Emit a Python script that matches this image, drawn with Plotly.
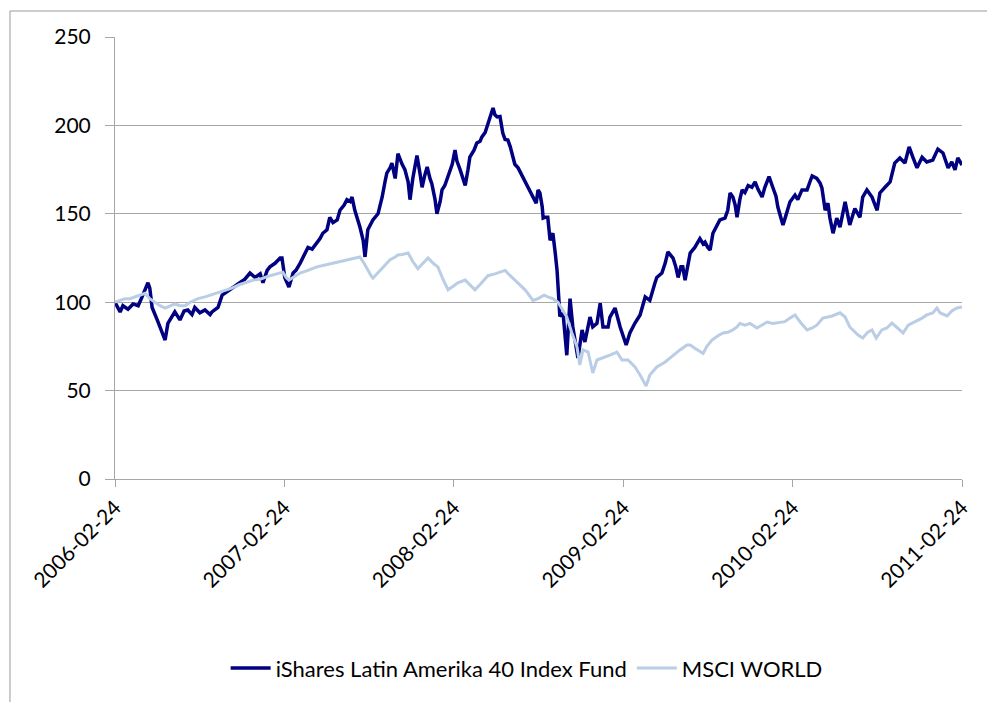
import plotly.graph_objects as go

# ---------------- data ----------------
latam_dates = [
    "2006-02-24","2006-03-03","2006-03-07","2006-03-13","2006-03-24","2006-04-04","2006-04-15","2006-04-25",
    "2006-05-06","2006-05-10","2006-05-15","2006-05-26","2006-06-03","2006-06-12","2006-06-18","2006-06-27",
    "2006-07-03","2006-07-14","2006-07-23","2006-07-31","2006-08-09","2006-08-15","2006-08-26","2006-09-06",
    "2006-09-17","2006-09-21","2006-10-04","2006-10-13","2006-10-23","2006-11-03","2006-11-12","2006-11-20",
    "2006-12-01","2006-12-12","2006-12-23","2007-01-03","2007-01-09","2007-01-18","2007-01-24","2007-02-04",
    "2007-02-15","2007-02-19","2007-02-25","2007-03-06","2007-03-15","2007-03-21","2007-03-30","2007-04-07",
    "2007-04-16","2007-04-25","2007-05-05","2007-05-12","2007-05-18","2007-05-27","2007-06-02","2007-06-09",
    "2007-06-18","2007-06-24","2007-07-03","2007-07-09","2007-07-16","2007-07-20","2007-07-26","2007-07-31",
    "2007-08-06","2007-08-13","2007-08-17","2007-08-23","2007-09-03","2007-09-14","2007-09-23","2007-09-29",
    "2007-10-03","2007-10-10","2007-10-14","2007-10-21","2007-10-27","2007-11-05","2007-11-11","2007-11-18",
    "2007-11-22","2007-11-28","2007-12-07","2007-12-14","2007-12-18","2007-12-24","2007-12-29","2008-01-04",
    "2008-01-08","2008-01-15","2008-01-19","2008-01-26","2008-01-30","2008-02-05","2008-02-12","2008-02-21",
    "2008-02-27","2008-03-02","2008-03-09","2008-03-15","2008-03-20","2008-03-26","2008-03-30","2008-04-08",
    "2008-04-14","2008-04-21","2008-04-25","2008-05-02","2008-05-06","2008-05-12","2008-05-19","2008-05-23",
    "2008-05-28","2008-06-03","2008-06-09","2008-06-14","2008-06-20","2008-06-25","2008-07-01","2008-07-05",
    "2008-07-12","2008-07-16","2008-07-23","2008-07-29","2008-08-02","2008-08-09","2008-08-13","2008-08-20",
    "2008-08-24","2008-08-28","2008-09-02","2008-09-04","2008-09-08","2008-09-14","2008-09-19","2008-09-25",
    "2008-09-30","2008-10-04","2008-10-08","2008-10-10","2008-10-17","2008-10-25","2008-11-01","2008-11-07",
    "2008-11-18","2008-11-27","2008-12-03","2008-12-14","2008-12-20","2008-12-29","2009-01-05","2009-01-11",
    "2009-01-22","2009-01-26","2009-02-06","2009-02-17","2009-03-02","2009-03-10","2009-03-21","2009-04-01",
    "2009-04-12","2009-04-22","2009-05-03","2009-05-07","2009-05-18","2009-05-25","2009-05-31","2009-06-07",
    "2009-06-11","2009-06-17","2009-06-22","2009-06-28","2009-07-02","2009-07-07","2009-07-11","2009-07-18",
    "2009-07-28","2009-08-08","2009-08-15","2009-08-19","2009-08-25","2009-08-30","2009-09-05","2009-09-14",
    "2009-09-20","2009-10-01","2009-10-07","2009-10-12","2009-10-18","2009-10-23","2009-10-27","2009-11-02",
    "2009-11-07","2009-11-13","2009-11-20","2009-11-28","2009-12-05","2009-12-11","2009-12-20","2009-12-26",
    "2010-01-04","2010-01-12","2010-01-19","2010-01-23","2010-01-30","2010-02-03","2010-02-07","2010-02-12",
    "2010-02-18","2010-03-01","2010-03-07","2010-03-16","2010-03-27","2010-04-02","2010-04-07","2010-04-17",
    "2010-04-24","2010-04-28","2010-05-05","2010-05-11","2010-05-15","2010-05-22","2010-05-30","2010-06-06",
    "2010-06-17","2010-06-27","2010-07-08","2010-07-19","2010-07-25","2010-08-03","2010-08-14","2010-08-25",
    "2010-08-31","2010-09-11","2010-09-22","2010-10-02","2010-10-13","2010-10-24","2010-11-02","2010-11-10",
    "2010-11-19","2010-11-30","2010-12-10","2010-12-23","2011-01-03","2011-01-14","2011-01-25","2011-02-02",
    "2011-02-09","2011-02-15","2011-02-24",
]
latam_values = [
    100, 97, 94.5, 98, 96, 99, 98, 104,
    111, 108, 97, 90, 84, 78.6, 88, 92,
    94.5, 90, 95, 95.6, 93, 97, 94, 95.6,
    93, 94.5, 97, 104, 106, 108, 110, 111,
    113, 116.5, 114, 116, 111, 118, 120, 122,
    125, 125, 114, 108.6, 116.5, 118, 122, 126,
    131, 130, 133.5, 136, 139, 141, 148, 145,
    146.5, 152, 155, 158, 157, 159.5, 152, 148,
    142.5, 135, 125.6, 141, 146.5, 150, 159.5, 168,
    173, 176, 178.7, 170, 184, 178, 175, 168,
    158, 170, 183, 172, 165, 172, 176.5, 170,
    167, 158, 150, 157, 163.5, 166, 171, 178,
    186, 180, 175, 170, 166, 175, 182, 186,
    190, 191, 193.5, 196, 199, 204, 209.8, 206,
    204.8, 205, 195.7, 192, 191.7, 188, 182, 178,
    176, 174, 170, 168, 165, 162, 159.5, 156,
    163.5, 161.8, 154, 147.6, 148, 148, 135, 139,
    128, 118, 101, 92, 93.7, 70, 102, 86,
    68.4, 84.3, 77.5, 91.6, 86, 88, 99.4, 86,
    86, 91.6, 96.7, 86, 75.8, 82.6, 88.2, 92.8,
    103, 101, 110.9, 114, 116.5, 122, 128.4, 126,
    125, 120, 114, 120, 120, 112.5, 118, 127.8,
    131, 136, 133, 134, 131, 129.5, 139, 143,
    146.5, 147.6, 152, 161.8, 159.5, 155, 148, 158,
    163.5, 162, 166, 165, 168, 164, 159.5, 165,
    171, 165, 160, 153.8, 148, 143.7, 147, 152,
    156.7, 160.6, 158, 163.5, 163.5, 168, 171.4, 170,
    167.4, 164.6, 152, 156, 148, 139, 147.6, 142.5,
    156.7, 143.7, 153, 148, 159.5, 163.5, 159.5, 152,
    161.8, 165, 168, 178.7, 181.6, 178.7, 187.8, 182,
    176, 182, 179.3, 180.4, 186.6, 184.4, 176, 179.3,
    174.8, 181.6, 177.6,
]

msci_dates = [
    "2006-02-24","2006-03-07","2006-03-18","2006-03-28","2006-04-08","2006-04-19","2006-04-30","2006-05-10",
    "2006-05-21","2006-06-01","2006-06-12","2006-06-23","2006-07-03","2006-07-14","2006-07-25","2006-08-05",
    "2006-08-22","2006-09-06","2006-09-28","2006-10-19","2006-11-03","2006-11-20","2006-12-01","2006-12-19",
    "2007-01-03","2007-01-24","2007-02-21","2007-02-28","2007-03-06","2007-03-15","2007-03-30","2007-04-16",
    "2007-05-05","2007-05-23","2007-06-09","2007-06-24","2007-07-16","2007-07-26","2007-08-06","2007-08-15",
    "2007-08-23","2007-08-30","2007-09-03","2007-09-12","2007-09-18","2007-09-29","2007-10-10","2007-10-21",
    "2007-10-27","2007-11-05","2007-11-18","2007-11-28","2007-12-09","2007-12-20","2007-12-31","2008-01-11",
    "2008-01-21","2008-02-01","2008-02-12","2008-02-23","2008-03-04","2008-03-20","2008-03-30","2008-04-10",
    "2008-04-21","2008-05-08","2008-05-23","2008-06-14","2008-06-25","2008-07-05","2008-07-16","2008-07-27",
    "2008-08-02","2008-08-13","2008-08-24","2008-09-06","2008-09-14","2008-09-25","2008-10-06","2008-10-15",
    "2008-10-25","2008-11-05","2008-11-16","2008-11-22","2008-11-29","2008-12-10","2008-12-20","2008-12-29",
    "2009-01-11","2009-01-26","2009-02-10","2009-02-21","2009-03-06","2009-03-21","2009-04-01","2009-04-14",
    "2009-04-22","2009-05-07","2009-05-25","2009-06-11","2009-06-26","2009-07-11","2009-07-18","2009-07-28",
    "2009-08-08","2009-08-15","2009-08-23","2009-09-03","2009-09-16","2009-09-27","2009-10-07","2009-10-18",
    "2009-10-27","2009-11-02","2009-11-13","2009-11-24","2009-12-09","2009-12-20","2009-12-31","2010-01-12",
    "2010-01-28","2010-02-07","2010-02-18","2010-03-01","2010-03-12","2010-03-27","2010-04-07","2010-04-17",
    "2010-04-30","2010-05-20","2010-06-06","2010-06-17","2010-06-27","2010-07-04","2010-07-15","2010-07-25",
    "2010-08-05","2010-08-14","2010-08-23","2010-09-04","2010-09-15","2010-09-26","2010-10-07","2010-10-20",
    "2010-10-31","2010-11-15","2010-11-30","2010-12-10","2010-12-23","2011-01-01","2011-01-08","2011-01-23",
    "2011-02-02","2011-02-13","2011-02-24",
]
msci_values = [
    100, 101, 102, 102, 103, 104, 105, 102,
    100, 98, 96.7, 98, 99, 98, 98, 100,
    102, 103, 105, 107, 108, 110, 111, 112.5,
    113, 115, 117, 114, 112.5, 114, 116.5, 118,
    120, 121, 122, 123, 124, 125, 125.6, 122,
    118, 115, 113.6, 116, 118, 121, 124, 125.6,
    126.7, 127, 127.8, 123, 119, 122, 125, 122,
    120, 113, 107, 109, 111, 112.5, 110, 107,
    110, 115, 116, 118, 115, 112.5, 110, 107,
    105, 101, 102, 104, 103, 102, 100, 95.6,
    91.6, 82.6, 74.7, 64.5, 73, 71.8, 60, 67.3,
    68.4, 70.1, 71.8, 67.3, 67.3, 63.4, 58.8, 52.6,
    58.8, 63.4, 66.2, 70.1, 73, 75.8, 75.8, 74,
    72, 71, 75, 78.6, 81, 82.6, 83, 84.3,
    86, 88, 87, 88, 85.4, 87, 88.8, 88,
    88.8, 89, 91, 92.8, 88.8, 84.3, 85.4, 87,
    91, 92.2, 94, 91.6, 86, 84.3, 81.4, 79.7,
    83.1, 84.3, 79.7, 84.3, 85.4, 88.2, 85.4, 82.6,
    87, 88.8, 91, 92.8, 93.9, 96.7, 93.9, 92.2,
    95, 96.7, 97.3,
]

series_names = ["iShares Latin Amerika 40 Index Fund", "MSCI WORLD"]
tick_dates = ["2006-02-24", "2007-02-24", "2008-02-24", "2009-02-24", "2010-02-24", "2011-02-24"]
y_ticks = [0, 50, 100, 150, 200, 250]

# ---------------- figure ----------------
FONT = "Lato, 'Open Sans', sans-serif"
GRID = "#A6A6A6"

fig = go.Figure()
fig.add_trace(go.Scatter(x=latam_dates, y=latam_values, mode="lines",
                         name=series_names[0],
                         line=dict(color="#000080", width=3.5)))
fig.add_trace(go.Scatter(x=msci_dates, y=msci_values, mode="lines",
                         name=series_names[1],
                         line=dict(color="#B9CDE5", width=3)))

# the page body adds an 8px margin, so the figure is 8px smaller than the window
fig.update_layout(
    width=987, height=694, autosize=False,
    margin=dict(l=107, r=33, t=29, b=223),
    paper_bgcolor="white", plot_bgcolor="white",
    font=dict(family=FONT, size=21, color="black"),
    showlegend=True,
    legend=dict(orientation="h", x=0.486, xanchor="center", y=-0.428, yanchor="middle",
                font=dict(family=FONT, size=22, color="black"),
                itemwidth=40, tracegroupgap=0, bgcolor="rgba(0,0,0,0)"),
    xaxis=dict(
        type="date",
        range=[tick_dates[0], tick_dates[-1]],
        tickmode="array", tickvals=tick_dates, ticktext=tick_dates,
        tickangle=-45, ticks="outside", ticklen=7, tickcolor=GRID, tickwidth=1,
        showgrid=False, zeroline=False,
        showline=True, linecolor=GRID, linewidth=1,
        tickfont=dict(family=FONT, size=21, color="black"),
    ),
    yaxis=dict(
        range=[0, 250], tickmode="array", tickvals=y_ticks,
        ticks="outside", ticklen=9, tickcolor=GRID, tickwidth=1,
        showgrid=True, gridcolor=GRID, gridwidth=1,
        zeroline=False, showline=True, linecolor=GRID, linewidth=1,
        tickfont=dict(family=FONT, size=21, color="black"),
        ticklabelstandoff=10,
    ),
    shapes=[
        dict(type="line", xref="paper", yref="paper",
             x0=-0.124, x1=1.2, y0=1.0588, y1=1.0588,
             line=dict(color="#9A9A9A", width=1)),
        dict(type="line", xref="paper", yref="paper",
             x0=-0.124, x1=-0.124, y0=1.0588, y1=-0.6,
             line=dict(color="#9A9A9A", width=1)),
    ],
)

fig.write_html("out.html")
